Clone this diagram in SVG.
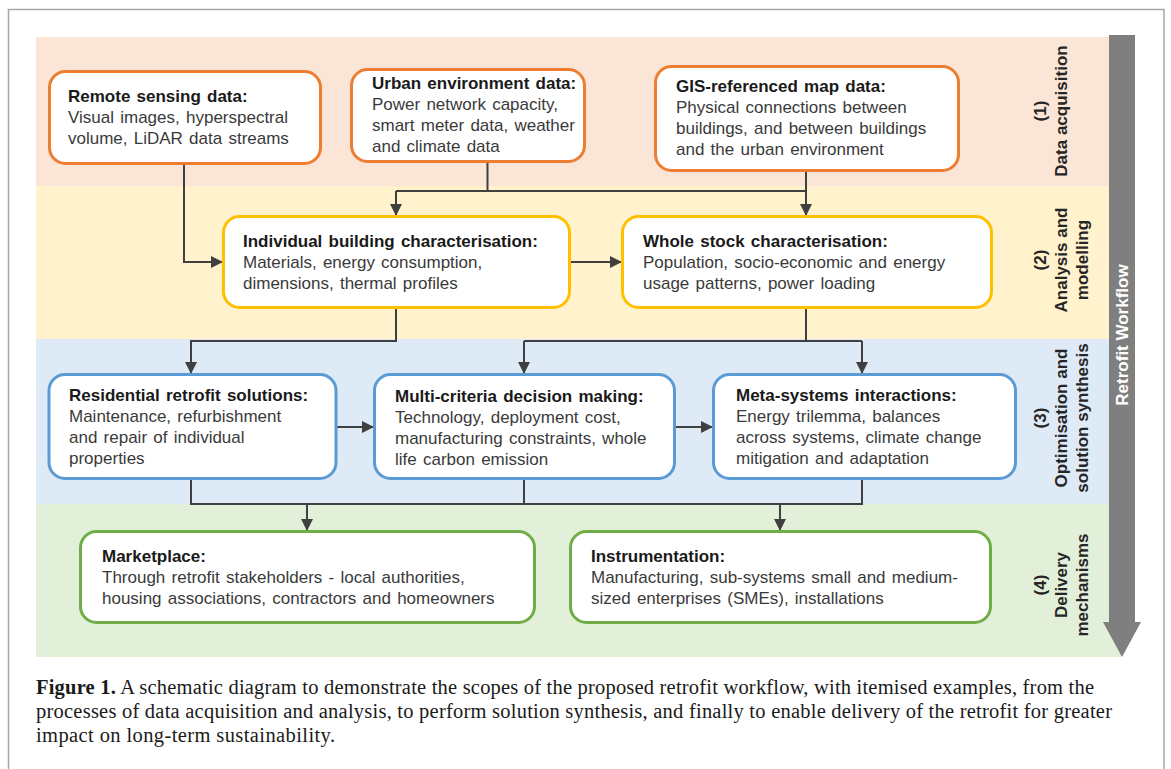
<svg xmlns="http://www.w3.org/2000/svg" width="1171" height="769" viewBox="0 0 1171 769">
<style>
.t{font-family:"Liberation Sans",Arial,sans-serif;font-size:17px;word-spacing:1.5px;fill:#3a3a3a;}
.b{font-weight:bold;fill:#1a1a1a;}
.lab{font-family:"Liberation Sans",Arial,sans-serif;font-size:17px;font-weight:bold;fill:#262626;text-anchor:middle;}
.box{fill:#ffffff;stroke-width:3;}
.o{stroke:#ED7D31;}
.y{stroke:#FFC000;}
.bl{stroke:#5B9BD5;}
.g{stroke:#70AD47;}
.c{fill:none;stroke:#404040;stroke-width:2;}
.cap{font-family:"Liberation Serif","Times New Roman",serif;font-size:20.5px;fill:#1a1a1a;}
</style>
<defs>
<marker id="ah" viewBox="0 0 12 12" refX="12" refY="6" markerWidth="12" markerHeight="12" markerUnits="userSpaceOnUse" orient="auto">
<path d="M0,0 L12,6 L0,12 Z" fill="#404040"/>
</marker>
</defs>
<rect x="0" y="0" width="1171" height="769" fill="#ffffff"/>
<path d="M8.5,775 L8.5,9.5 L1164,9.5 L1164,775" fill="none" stroke="#A6A6A6" stroke-width="1.5"/>
<g id="bands">
<rect x="36" y="37" width="1085" height="149" fill="#FBE5D6"/>
<rect x="36" y="186" width="1085" height="153" fill="#FFF2CC"/>
<rect x="36" y="339" width="1085" height="165" fill="#DEEBF7"/>
<rect x="36" y="504" width="1085" height="153" fill="#E2F0D9"/>
</g>
<g id="workflow-arrow">
<path d="M1109,35 L1135,35 L1135,622 L1141,622 L1122,657 L1103,622 L1109,622 Z" fill="#7F7F7F"/>
<text class="lab" style="fill:#ffffff" transform="translate(1128,335) rotate(-90)">Retrofit  Workflow</text>
</g>
<g id="stage-labels">
<text class="lab" transform="translate(1046,111) rotate(-90)">(1)</text>
<text class="lab" transform="translate(1067,111) rotate(-90)">Data acquisition</text>
<text class="lab" transform="translate(1046,260) rotate(-90)">(2)</text>
<text class="lab" transform="translate(1067,260) rotate(-90)">Analysis  and</text>
<text class="lab" transform="translate(1088,260) rotate(-90)">modelling</text>
<text class="lab" transform="translate(1046,418) rotate(-90)">(3)</text>
<text class="lab" transform="translate(1067,418) rotate(-90)">Optimisation and</text>
<text class="lab" transform="translate(1088,418) rotate(-90)">solution  synthesis</text>
<text class="lab" transform="translate(1046,585) rotate(-90)">(4)</text>
<text class="lab" transform="translate(1067,585) rotate(-90)">Delivery</text>
<text class="lab" transform="translate(1088,585) rotate(-90)">mechanisms</text>
</g>
<g id="connectors">
<path class="c" d="M184,164 L184,262 L223,262" marker-end="url(#ah)"/>
<path class="c" d="M487.5,162 L487.5,191"/>
<path class="c" d="M396,191 L806,191"/>
<path class="c" d="M396,191 L396,216" marker-end="url(#ah)"/>
<path class="c" d="M806,171 L806,216" marker-end="url(#ah)"/>
<path class="c" d="M570,262 L622,262" marker-end="url(#ah)"/>
<path class="c" d="M396,308 L396,341 L191,341 L191,374" marker-end="url(#ah)"/>
<path class="c" d="M806,308 L806,341"/>
<path class="c" d="M524,341 L862,341"/>
<path class="c" d="M524,341 L524,374" marker-end="url(#ah)"/>
<path class="c" d="M862,341 L862,374" marker-end="url(#ah)"/>
<path class="c" d="M336,427 L374,427" marker-end="url(#ah)"/>
<path class="c" d="M675,427 L713,427" marker-end="url(#ah)"/>
<path class="c" d="M191,479 L191,504 L862,504 L862,479"/>
<path class="c" d="M524,479 L524,504"/>
<path class="c" d="M307,504 L307,531" marker-end="url(#ah)"/>
<path class="c" d="M780,504 L780,531" marker-end="url(#ah)"/>
</g>
<g id="remote-sensing">
<rect class="box o" x="49.5" y="71.5" width="271" height="92" rx="16"/>
<text class="t" x="68" y="102"><tspan class="b">Remote sensing data:</tspan><tspan x="68" y="123">Visual images, hyperspectral</tspan><tspan x="68" y="144">volume, LiDAR data streams</tspan></text>
</g>
<g id="urban-environment">
<rect class="box o" x="351.5" y="69.5" width="233" height="92" rx="16"/>
<text class="t" x="372" y="89"><tspan class="b">Urban environment data:</tspan><tspan x="372" y="110">Power network capacity,</tspan><tspan x="372" y="131">smart meter data, weather</tspan><tspan x="372" y="152">and climate data</tspan></text>
</g>
<g id="gis-map">
<rect class="box o" x="655.5" y="66.5" width="303" height="104" rx="16"/>
<text class="t" x="676" y="92"><tspan class="b">GIS-referenced map data:</tspan><tspan x="676" y="113">Physical connections between</tspan><tspan x="676" y="134">buildings, and between buildings</tspan><tspan x="676" y="155">and the urban environment</tspan></text>
</g>
<g id="individual-building">
<rect class="box y" x="223.5" y="216.5" width="346" height="91" rx="16"/>
<text class="t" x="243" y="247"><tspan class="b">Individual building characterisation:</tspan><tspan x="243" y="268">Materials, energy consumption,</tspan><tspan x="243" y="289">dimensions, thermal profiles</tspan></text>
</g>
<g id="whole-stock">
<rect class="box y" x="622.5" y="216.5" width="369" height="91" rx="16"/>
<text class="t" x="643" y="247"><tspan class="b">Whole stock characterisation:</tspan><tspan x="643" y="268">Population, socio-economic and energy</tspan><tspan x="643" y="289">usage patterns, power loading</tspan></text>
</g>
<g id="residential-retrofit">
<rect class="box bl" x="49" y="374.5" width="287" height="104" rx="16"/>
<text class="t" x="69" y="401"><tspan class="b">Residential retrofit solutions:</tspan><tspan x="69" y="422">Maintenance, refurbishment</tspan><tspan x="69" y="443">and repair of individual</tspan><tspan x="69" y="464">properties</tspan></text>
</g>
<g id="multi-criteria">
<rect class="box bl" x="374.5" y="374.5" width="300" height="104" rx="16"/>
<text class="t" x="395" y="402"><tspan class="b">Multi-criteria decision making:</tspan><tspan x="395" y="423">Technology, deployment cost,</tspan><tspan x="395" y="444">manufacturing constraints, whole</tspan><tspan x="395" y="465">life carbon emission</tspan></text>
</g>
<g id="meta-systems">
<rect class="box bl" x="713.5" y="374.5" width="302" height="104" rx="16"/>
<text class="t" x="736" y="401"><tspan class="b">Meta-systems interactions:</tspan><tspan x="736" y="422">Energy trilemma, balances</tspan><tspan x="736" y="443">across systems, climate change</tspan><tspan x="736" y="464">mitigation and adaptation</tspan></text>
</g>
<g id="marketplace">
<rect class="box g" x="80.5" y="531.5" width="454" height="91" rx="16"/>
<text class="t" x="102" y="562"><tspan class="b">Marketplace:</tspan><tspan x="102" y="583">Through retrofit stakeholders  - local authorities,</tspan><tspan x="102" y="604">housing associations, contractors and homeowners</tspan></text>
</g>
<g id="instrumentation">
<rect class="box g" x="570.5" y="531.5" width="420" height="91" rx="16"/>
<text class="t" x="591" y="562"><tspan class="b">Instrumentation:</tspan><tspan x="591" y="583">Manufacturing, sub-systems small and medium-</tspan><tspan x="591" y="604">sized enterprises (SMEs), installations</tspan></text>
</g>
<g id="caption">
<text class="cap" x="36" y="694" textLength="1058"><tspan font-weight="bold">Figure 1.</tspan> A schematic diagram to demonstrate the scopes of the proposed retrofit workflow, with itemised examples, from the</text>
<text class="cap" x="36" y="718" textLength="1076">processes of data acquisition and analysis, to perform solution synthesis, and finally to enable delivery of the retrofit for greater</text>
<text class="cap" x="36" y="742" textLength="299">impact on long-term sustainability.</text>
</g>
</svg>
